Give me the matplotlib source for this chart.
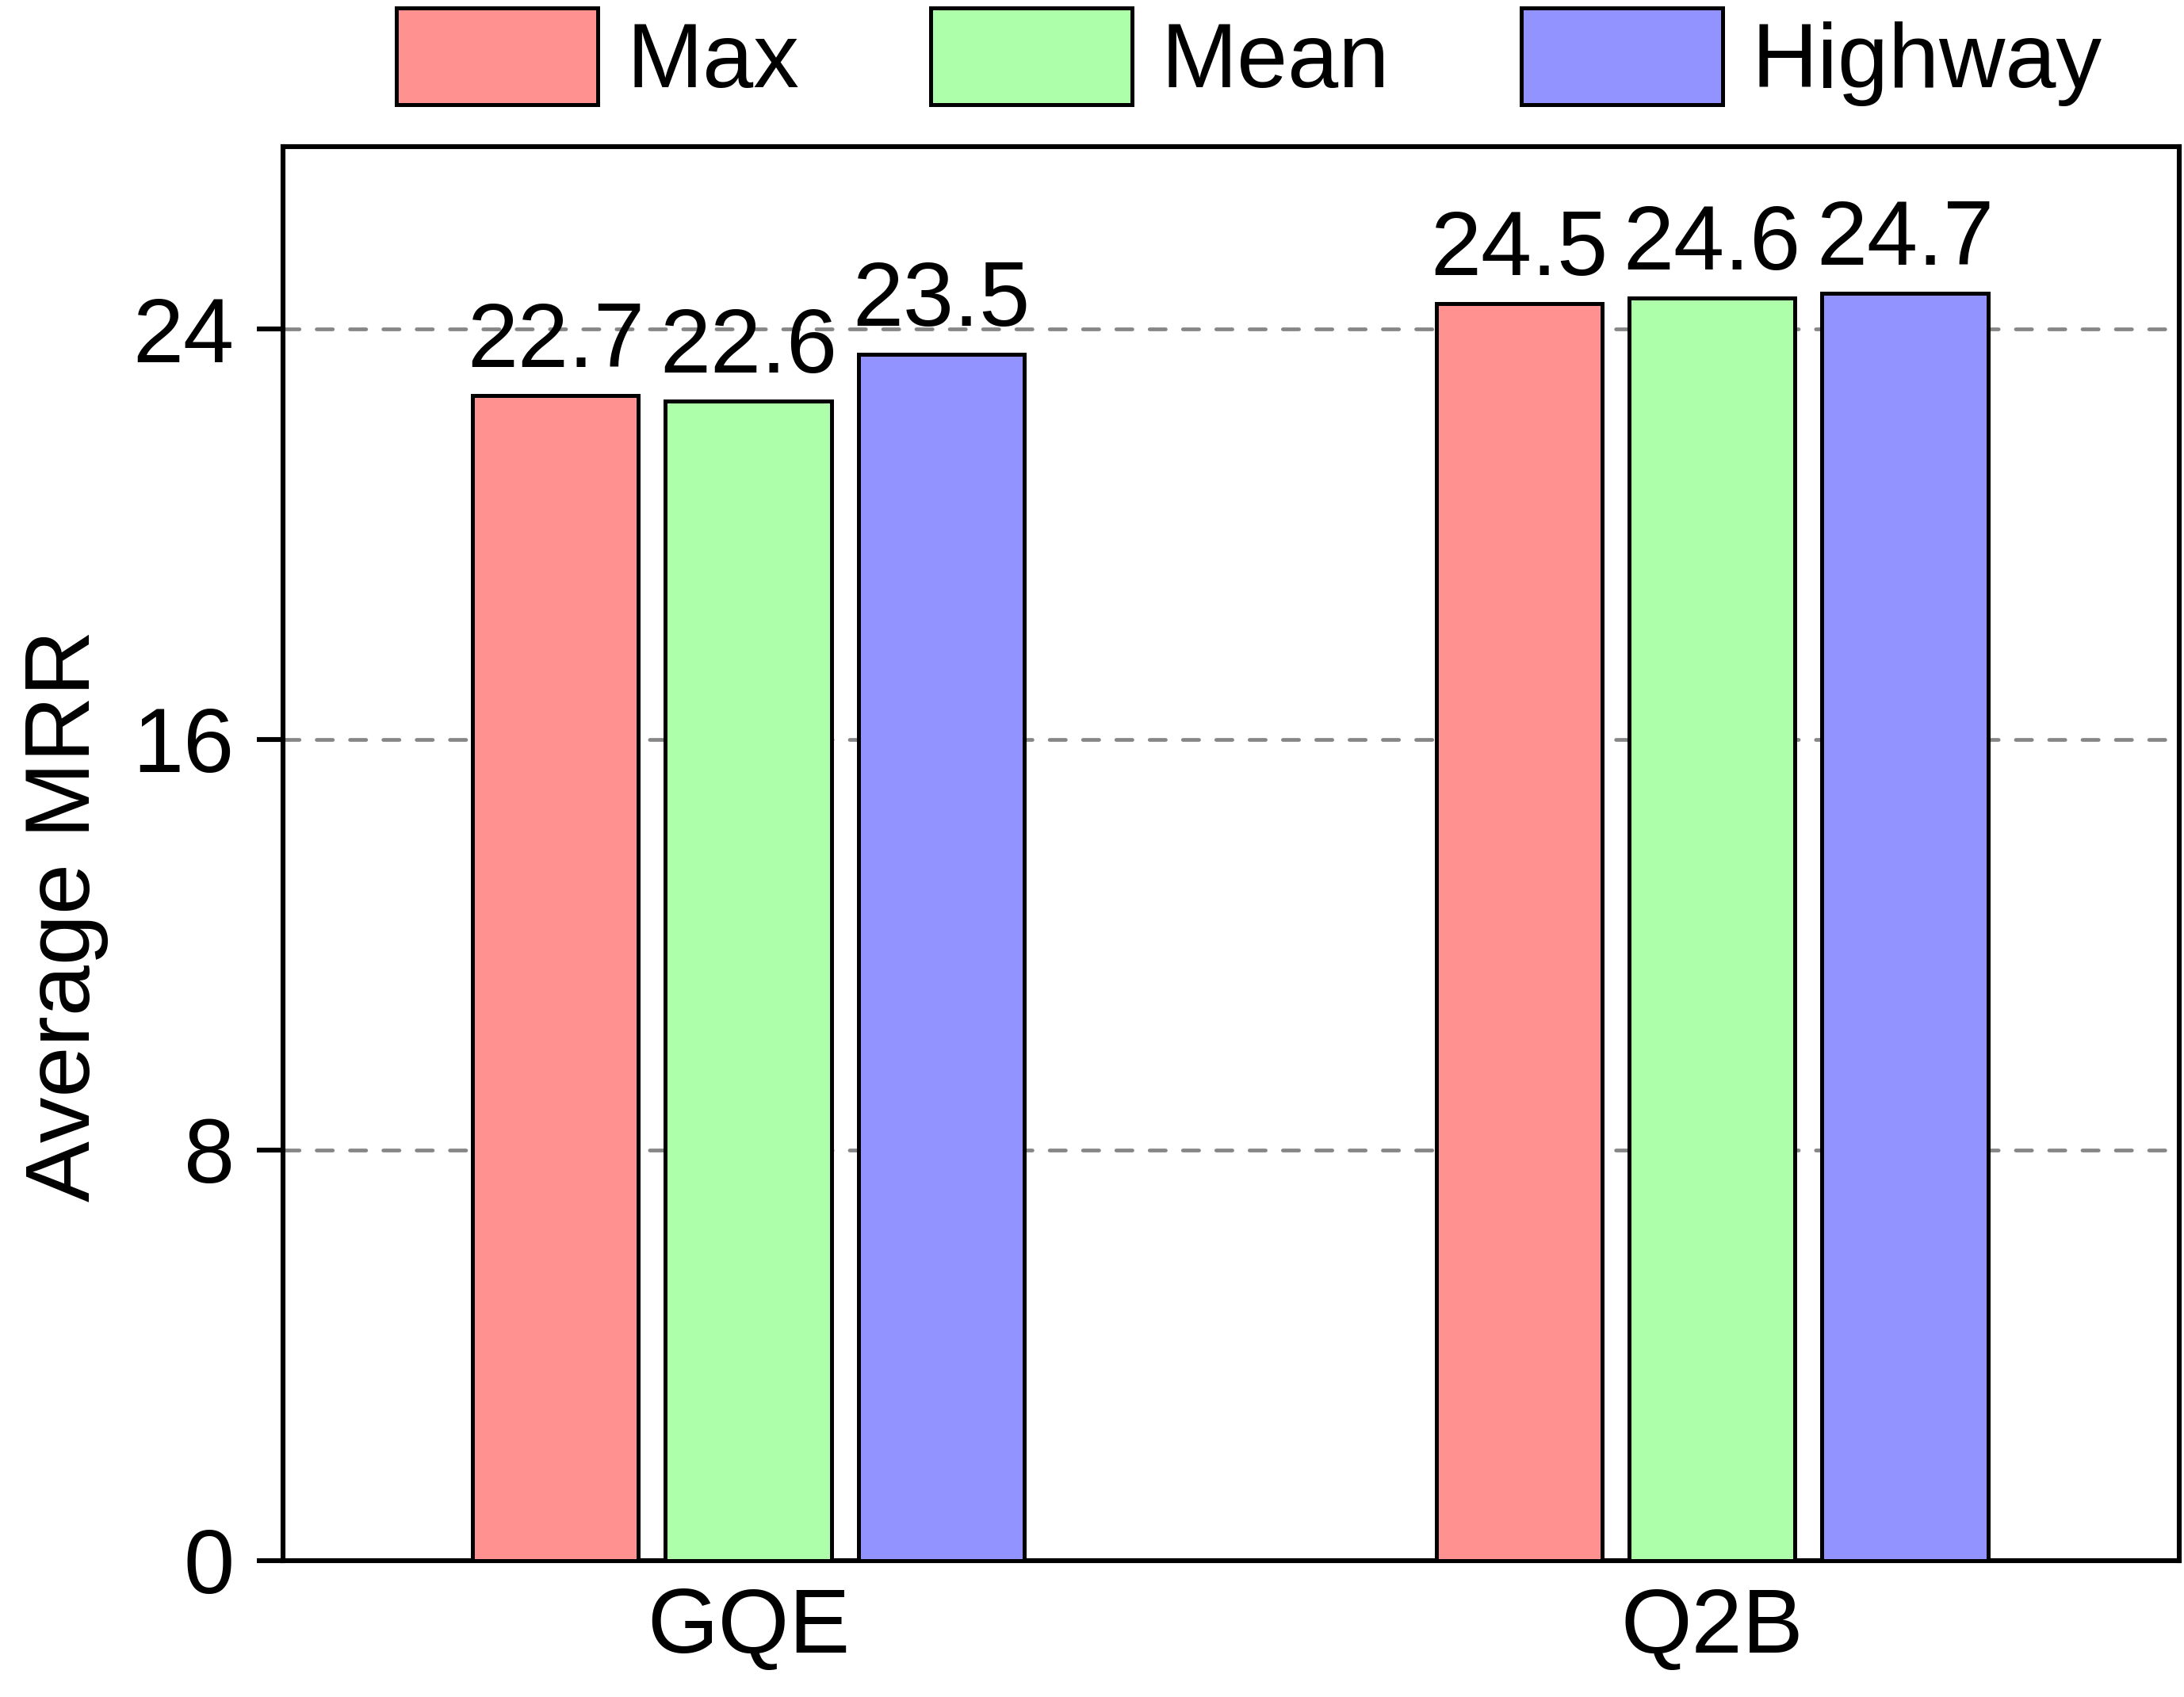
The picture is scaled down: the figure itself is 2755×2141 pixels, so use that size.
import matplotlib
matplotlib.use("Agg")
import matplotlib.pyplot as plt
import numpy as np

plt.rcParams['font.family'] = ['Liberation Sans', 'DejaVu Sans']

groups = ["GQE", "Q2B"]
series = ["Max", "Mean", "Highway"]
max_vals = [22.7, 24.5]
mean_vals = [22.6, 24.6]
highway_vals = [23.5, 24.7]
colors = ["#FF9191", "#AEFFA9", "#9393FF"]
yticks = [0, 8, 16, 24]

FS = 41.5
fig = plt.figure(figsize=(13.775, 10.705), dpi=200)
ax = fig.add_axes([0.1295, 0.0805, 0.998 - 0.1295, 0.9138 - 0.0805])

x = np.arange(len(groups))
width = 0.172
offsets = [-0.2, 0.0, 0.2]
all_vals = [max_vals, mean_vals, highway_vals]
handles = []
for vals, off, col, name in zip(all_vals, offsets, colors, series):
    bars = ax.bar(x + off, vals, width, color=col, edgecolor='black',
                  linewidth=1.8, label=name, zorder=3)
    handles.append(bars)
    for b, v in zip(bars, vals):
        ax.annotate(f"{v:.1f}", (b.get_x() + b.get_width() / 2, v),
                    xytext=(0, 13), textcoords='offset points',
                    ha='center', va='baseline', fontsize=FS, zorder=4)

ax.set_xlim(-0.483, 1.485)
ax.set_ylim(0, 27.56)
ax.set_yticks(yticks)
ax.set_yticklabels([str(t) for t in yticks])
ax.set_xticks(x)
ax.set_xticklabels(groups)
ax.yaxis.grid(True, linestyle=(0, (4.3, 4.6)), color='#868686', linewidth=1.7, zorder=0)
for gl in ax.yaxis.get_gridlines():
    gl.set_dash_capstyle('round')
ax.set_axisbelow(True)
for s in ax.spines.values():
    s.set_linewidth(2.2)
ax.tick_params(axis='y', length=12, width=2.2, pad=10, labelsize=FS)
ax.tick_params(axis='x', length=0, pad=12, labelsize=FS)
ax.set_ylabel("Average MRR", fontsize=FS)
ax.yaxis.set_label_coords(-0.092, 0.456)

leg = fig.legend(handles=handles, labels=series, loc='center',
                 bbox_to_anchor=(897 / 1568, 1 - 41 / 1218), ncol=3,
                 frameon=False, fontsize=FS, handlelength=2.2,
                 handleheight=1.25, handletextpad=0.32, columnspacing=1.44,
                 borderaxespad=0, borderpad=0)

fig.savefig("out.png", dpi=200)
